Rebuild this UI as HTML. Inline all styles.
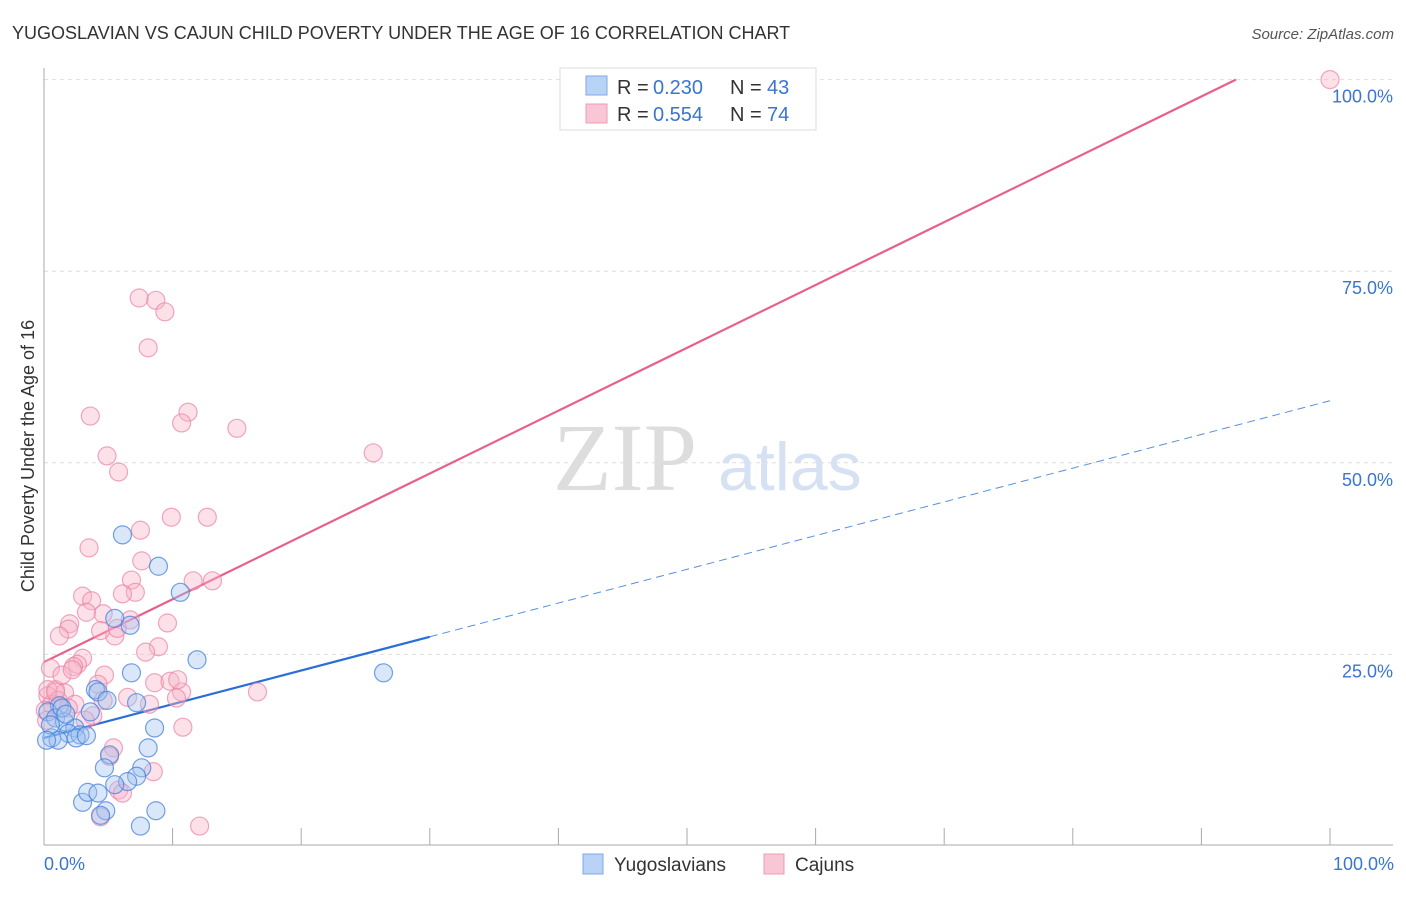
<!DOCTYPE html>
<html><head><meta charset="utf-8"><style>
body{margin:0;background:#fff;font-family:"Liberation Sans",sans-serif}
</style></head><body>
<svg width="1406" height="892" xmlns="http://www.w3.org/2000/svg">
<text x="12" y="39" font-size="18" fill="#333">YUGOSLAVIAN VS CAJUN CHILD POVERTY UNDER THE AGE OF 16 CORRELATION CHART</text>
<text x="1394" y="39" font-size="15" fill="#555" font-style="italic" text-anchor="end">Source: ZipAtlas.com</text>
<g>
<text x="553" y="490" font-family="Liberation Serif,serif" font-size="96" fill="#ddd">ZIP</text>
<text x="718" y="490" font-size="68" fill="#d6e2f3">atlas</text>
</g>
<g id="grid"></g>
<g id="axes"></g>
<text transform="translate(34,456) rotate(-90)" font-size="18" fill="#333" text-anchor="middle">Child Poverty Under the Age of 16</text>
<g id="lines"></g>
<g id="pts"></g>
<g>
<rect x="560" y="68" width="256" height="62" fill="#fff" stroke="#ddd"/>
<rect x="586" y="76" width="21" height="19" fill="#b8d3f5" stroke="#7fa9e6"/>
<rect x="586" y="104" width="21" height="19" fill="#f9c6d5" stroke="#f09ab5"/>
<text x="617" y="94" font-size="20" fill="#333">R =</text><text x="653" y="94" font-size="20" fill="#3a75d0">0.230</text>
<text x="730" y="94" font-size="20" fill="#333">N =</text><text x="767" y="94" font-size="20" fill="#3a75d0">43</text>
<text x="617" y="121" font-size="20" fill="#333">R =</text><text x="653" y="121" font-size="20" fill="#3a75d0">0.554</text>
<text x="730" y="121" font-size="20" fill="#333">N =</text><text x="767" y="121" font-size="20" fill="#3a75d0">74</text>
</g>
<g>
<rect x="583" y="854" width="20" height="20" fill="#b8d3f5" stroke="#7fa9e6"/>
<text x="614" y="871" font-size="19" fill="#333">Yugoslavians</text>
<rect x="764" y="854" width="20" height="20" fill="#f9c6d5" stroke="#f09ab5"/>
<text x="795" y="871" font-size="19" fill="#333">Cajuns</text>
</g>
<text x="44" y="870" font-size="18" fill="#3a75d0">0.0%</text>
<text x="1394" y="870" font-size="18" fill="#3a75d0" text-anchor="end">100.0%</text>
</svg>
<script>
const yTicks=[25,50,75,100];
const yTickLabels=["25.0%","50.0%","75.0%","100.0%"];
const xTicks=[0,10,20,30,40,50,60,70,80,90,100];
const blueX=[6.1,8.9,10.6,5.5,6.7,11.9,6.8,26.4,4.0,4.2,4.9,7.2,1.2,0.3,0.9,3.6,1.6,2.4,1.9,2.8,0.6,1.1,2.5,3.3,8.6,8.1,5.1,4.7,7.6,7.2,6.5,5.5,3.0,3.4,4.2,4.8,4.4,8.7,7.5,0.5,0.2,1.4,1.7];
const blueY=[40.6,36.5,33.1,29.7,28.8,24.3,22.6,22.6,20.4,20.1,19.0,18.7,18.3,17.5,16.7,17.5,16.2,15.4,14.7,14.5,14.1,13.8,14.1,14.4,15.4,12.8,11.9,10.2,10.2,9.1,8.4,8.0,5.7,7.0,6.9,4.6,4.0,4.6,2.6,15.8,13.8,18.0,17.2];
const pinkX=[100,7.4,8.7,9.4,8.1,3.6,11.2,10.7,15.0,25.6,4.9,5.8,7.5,9.9,12.7,3.5,7.6,6.8,11.6,13.1,7.1,3.0,6.1,3.7,2.0,1.9,4.6,3.3,9.6,1.2,5.5,4.4,5.7,8.9,7.9,3.0,2.6,2.3,0.5,4.7,0.9,1.6,0.3,4.2,8.6,9.8,10.7,10.3,6.5,16.6,4.6,2.4,0.6,1.9,3.8,3.2,5.4,5.1,10.8,8.5,5.8,6.1,4.4,12.1,0.3,1.1,0.1,1.4,0.9,2.2,8.2,10.4,0.2,6.7];
const pinkY=[100,71.5,71.2,69.7,65.0,56.1,56.6,55.2,54.5,51.3,50.9,48.8,41.2,42.9,42.9,38.9,37.2,34.7,34.6,34.6,33.1,32.6,32.9,32.0,29.0,28.3,30.3,30.5,29.1,27.4,27.4,28.1,28.4,26.0,25.3,24.5,23.7,23.4,23.2,22.3,20.4,20.0,19.6,21.1,21.3,21.5,20.1,19.3,19.4,20.1,19.0,18.5,18.5,18.0,17.0,16.4,12.8,11.7,15.5,9.7,7.3,6.9,3.8,2.6,20.4,19.0,17.7,22.3,20.1,23.0,18.5,21.7,16.4,29.5];
const blueTrend=[14.1,0.44];
const pinkTrend=[24.0,0.82];
const NS="http://www.w3.org/2000/svg";
const X=v=>44+v*12.86, Y=v=>846-v*7.664;
function mk(tag,attrs,parent){const e=document.createElementNS(NS,tag);for(const k in attrs)e.setAttribute(k,attrs[k]);parent.appendChild(e);return e;}
const grid=document.getElementById('grid'),axes=document.getElementById('axes');
yTicks.forEach((t,i)=>{
  const l=mk('line',{x1:44,x2:1393,y1:Y(t),y2:Y(t),stroke:'#ddd','stroke-dasharray':'4,4'},grid);
  
  
  const tx=mk('text',{x:1393,y:Y(t)+23,'font-size':18,fill:'#3a75d0','text-anchor':'end'},axes);
  tx.textContent=yTickLabels[i];
  
  
});
const xa=mk('line',{x1:44,x2:1393,y1:845,y2:845,stroke:'#aaa'},axes);


const ya=mk('line',{x1:44,x2:44,y1:68,y2:845,stroke:'#aaa'},axes);


xTicks.forEach(t=>{
  const l=mk('line',{x1:X(t),x2:X(t),y1:828,y2:845,stroke:'#aaa'},axes);
  
  
});
const pts=document.getElementById('pts'),lines=document.getElementById('lines');
function dots(xs,ys,fill,stroke,name){xs.forEach((x,i)=>{
  const c=mk('circle',{cx:X(x),cy:Y(ys[i]),r:9,fill:fill,stroke:stroke,'stroke-width':1.2},pts);
  
  
});}
dots(pinkX,pinkY,'rgba(248,180,200,0.4)','rgba(235,130,165,0.7)','cajun-point');
dots(blueX,blueY,'rgba(160,196,240,0.4)','rgba(70,130,220,0.75)','yugoslavian-point');
const pEnd=(100-pinkTrend[0])/pinkTrend[1];
const pl=mk('line',{x1:X(0),y1:Y(pinkTrend[0]),x2:X(pEnd),y2:Y(100),stroke:'#e8608a','stroke-width':2.2},lines);


const bl=mk('line',{x1:X(0),y1:Y(blueTrend[0]),x2:X(30),y2:Y(blueTrend[0]+30*blueTrend[1]),stroke:'#2a6fd6','stroke-width':2.2},lines);


const bd=mk('line',{x1:X(30),y1:Y(blueTrend[0]+30*blueTrend[1]),x2:X(100),y2:Y(blueTrend[0]+100*blueTrend[1]),stroke:'#5a8fdc','stroke-width':1,'stroke-dasharray':'8,5'},lines);


</script>
</body></html>
